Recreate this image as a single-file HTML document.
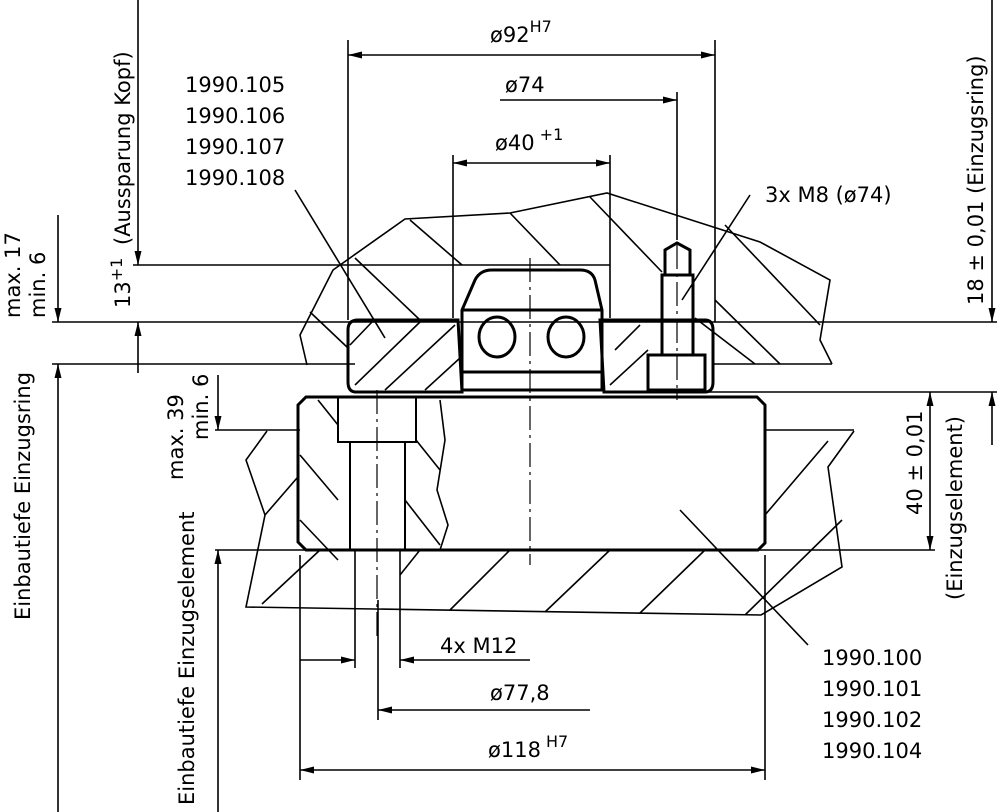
<!DOCTYPE html>
<html><head><meta charset="utf-8"><style>
html,body{margin:0;padding:0;background:#fff}
svg{display:block}
text{font-family:"DejaVu Sans","Liberation Sans",sans-serif;font-size:21px;fill:#000}
</style></head><body>
<svg width="1000" height="812" viewBox="0 0 1000 812" xmlns="http://www.w3.org/2000/svg">
<defs>
<marker id="a" viewBox="0 0 10 10" refX="10" refY="5" markerWidth="14" markerHeight="14" markerUnits="userSpaceOnUse" orient="auto-start-reverse"><path d="M0,2.5 L10,5 L0,7.5z" fill="#000"/></marker>
</defs>
<g stroke="#000" stroke-width="1.6" fill="none">
<line x1="52" y1="322" x2="997" y2="322"/>
<line x1="52" y1="364" x2="355" y2="364"/>
<line x1="133" y1="265" x2="610" y2="265"/>
<line x1="705" y1="392" x2="997" y2="392"/>
<line x1="215" y1="430" x2="300" y2="430"/>
<line x1="765" y1="430" x2="854" y2="430"/>
<line x1="215" y1="550" x2="935" y2="550"/>
<line x1="712" y1="364" x2="832" y2="364"/>
<polyline points="307,365 300,335 333,270 405,219 510,213 607,193 760,242 830,280 820,340 832,364"/>
<line x1="410" y1="220" x2="462" y2="265"/><line x1="510" y1="213" x2="560" y2="265"/>
<line x1="590" y1="197" x2="662" y2="272"/><line x1="355" y1="258" x2="420" y2="320"/>
<line x1="310" y1="312" x2="348" y2="348"/><line x1="715" y1="300" x2="780" y2="364"/>
<line x1="725" y1="225" x2="820" y2="325"/><line x1="695" y1="318" x2="755" y2="364"/>
<polyline points="267,431 246,460 265,515 246,607 761,615 842,567 828,467 854,431"/>
<line x1="265" y1="515" x2="297" y2="478"/><line x1="262" y1="604" x2="320" y2="550"/>
<line x1="400" y1="575" x2="420" y2="550"/><line x1="450" y1="610" x2="510" y2="550"/>
<line x1="545" y1="612" x2="610" y2="550"/><line x1="640" y1="613" x2="705" y2="550"/>
<line x1="745" y1="615" x2="842" y2="520"/><line x1="765" y1="515" x2="828" y2="441"/>
<line x1="348" y1="40" x2="348" y2="320"/><line x1="715" y1="40" x2="715" y2="322"/>
<line x1="453" y1="155" x2="453" y2="318"/><line x1="610" y1="155" x2="610" y2="318"/>
<line x1="677" y1="92" x2="677" y2="240"/>
<line x1="300" y1="555" x2="300" y2="780"/><line x1="765" y1="555" x2="765" y2="780"/>
<line x1="355" y1="550" x2="355" y2="668"/><line x1="400" y1="550" x2="400" y2="668"/>
<line x1="378" y1="600" x2="378" y2="720"/>
<line x1="348" y1="55" x2="715" y2="55" marker-start="url(#a)" marker-end="url(#a)"/>
<line x1="500" y1="100" x2="677" y2="100" marker-end="url(#a)"/>
<line x1="453" y1="163" x2="610" y2="163" marker-start="url(#a)" marker-end="url(#a)"/>
<line x1="300" y1="660" x2="355" y2="660" marker-end="url(#a)"/>
<line x1="530" y1="660" x2="400" y2="660" marker-end="url(#a)"/>
<line x1="590" y1="710" x2="378" y2="710" marker-end="url(#a)"/>
<line x1="300" y1="770" x2="765" y2="770" marker-start="url(#a)" marker-end="url(#a)"/>
<line x1="138" y1="0" x2="138" y2="265" marker-end="url(#a)"/>
<line x1="138" y1="373" x2="138" y2="322" marker-end="url(#a)"/>
<line x1="58" y1="215" x2="58" y2="322" marker-end="url(#a)"/>
<line x1="58" y1="812" x2="58" y2="364" marker-end="url(#a)"/>
<line x1="218" y1="375" x2="218" y2="430" marker-end="url(#a)"/>
<line x1="218" y1="812" x2="218" y2="550" marker-end="url(#a)"/>
<line x1="992" y1="0" x2="992" y2="322" marker-end="url(#a)"/>
<line x1="992" y1="445" x2="992" y2="392" marker-end="url(#a)"/>
<line x1="930" y1="392" x2="930" y2="550" marker-start="url(#a)" marker-end="url(#a)"/>
<line x1="295" y1="190" x2="385" y2="338"/>
<line x1="750" y1="195" x2="682" y2="300"/>
<line x1="808" y1="645" x2="680" y2="510"/>
<line x1="530" y1="258" x2="530" y2="565" stroke-dasharray="24,5,3,5" stroke-width="1.2"/>
<line x1="377" y1="390" x2="377" y2="640" stroke-dasharray="24,5,3,5" stroke-width="1.2"/>
<line x1="677" y1="245" x2="677" y2="400" stroke-dasharray="24,5,3,5" stroke-width="1.2"/>
</g>
<g stroke="#000" stroke-width="3" fill="none">
<path d="M358,320 H458 L462,392 H356 Q348,392 348,382 V330 Q348,320 358,320Z"/>
<path d="M600,320 H705 Q713,320 713,330 V382 Q713,392 705,392 H604Z"/>
<path d="M462,390 V310 L475,280 Q480,270 492,270 H580 Q592,270 595,280 L602,310 V390Z"/>
<line x1="462" y1="310" x2="602" y2="310"/><line x1="462" y1="372" x2="602" y2="372"/>
<ellipse cx="497" cy="337" rx="18" ry="20"/><ellipse cx="566" cy="337" rx="18" ry="20"/>
<rect x="648" y="355" width="57" height="35"/>
<path d="M662,355 V275 H693 V355"/><path d="M665,275 V250 L677,243 L690,250 V275"/>
<path d="M306,397 H757 L765,405 V543 L758,550 H306 L298,542 V405Z"/>
<rect x="338" y="397" width="78" height="45" stroke-width="2"/>
<line x1="350" y1="442" x2="350" y2="550" stroke-width="2"/><line x1="405" y1="442" x2="405" y2="550" stroke-width="2"/>
</g>
<g stroke="#000" stroke-width="1.6" fill="none">
<line x1="355" y1="385" x2="420" y2="322"/><line x1="385" y1="390" x2="455" y2="325"/><line x1="425" y1="390" x2="460" y2="358"/>
<line x1="350" y1="345" x2="372" y2="322"/>
<line x1="610" y1="385" x2="648" y2="350"/><line x1="615" y1="350" x2="640" y2="325"/>
<line x1="300" y1="455" x2="338" y2="500"/><line x1="300" y1="520" x2="338" y2="560"/><line x1="318" y1="400" x2="338" y2="425"/>
<line x1="416" y1="440" x2="440" y2="470"/><line x1="405" y1="500" x2="440" y2="545"/>
<polyline points="440,400 445,440 437,490 448,525 440,550"/>
</g>
<text x="490" y="42">ø92<tspan dy="-10" font-size="16">H7</tspan></text>
<text x="505" y="92">ø74</text>
<text x="495" y="150">ø40<tspan dy="-10" font-size="16"> +1</tspan></text>
<text x="765" y="202">3x M8 (ø74)</text>
<text x="185" y="92">1990.105</text><text x="185" y="123">1990.106</text>
<text x="185" y="154">1990.107</text><text x="185" y="185">1990.108</text>
<text x="822" y="665">1990.100</text><text x="822" y="696">1990.101</text>
<text x="822" y="727">1990.102</text><text x="822" y="758">1990.104</text>
<text x="440" y="653">4x M12</text>
<text x="490" y="700">ø77,8</text>
<text x="488" y="757">ø118<tspan dy="-10" font-size="16"> H7</tspan></text>
<text transform="translate(130,245) rotate(-90)">(Aussparung Kopf)</text>
<text transform="translate(130,308) rotate(-90)">13<tspan dy="-8" font-size="16">+1</tspan></text>
<text transform="translate(20,318) rotate(-90)">max. 17</text>
<text transform="translate(45,318) rotate(-90)">min. 6</text>
<text transform="translate(30,620) rotate(-90)">Einbautiefe Einzugsring</text>
<text transform="translate(183,480) rotate(-90)">max. 39</text>
<text transform="translate(208,440) rotate(-90)">min. 6</text>
<text transform="translate(194,805) rotate(-90)">Einbautiefe Einzugselement</text>
<text transform="translate(983,305) rotate(-90)">18 ± 0,01 (Einzugsring)</text>
<text transform="translate(922,515) rotate(-90)">40 ± 0,01</text>
<text transform="translate(962,600) rotate(-90)">(Einzugselement)</text>
</svg>
</body></html>
